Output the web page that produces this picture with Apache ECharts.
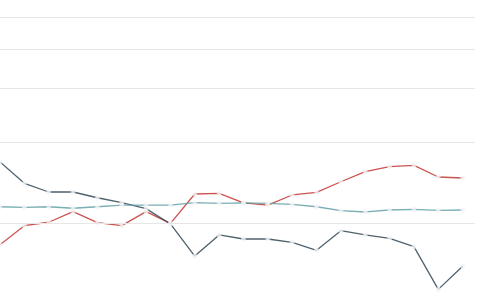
<!DOCTYPE html>
<html>
<head>
<meta charset="utf-8">
<script src="https://cdn.jsdelivr.net/npm/echarts@6/dist/echarts.min.js"></script>
<style>
html,body{margin:0;padding:0;background:#fff;}
#chart{width:480px;height:300px;}
</style>
</head>
<body>
<div id="chart"></div>
<script>
var categories = ['1','2','3','4','5','6','7','8','9','10','11','12','13','14','15','16','17','18','19','20'];
var seriesRed = [13.08,14.75,15.07,16.11,15.03,14.75,16.11,14.97,18.01,18.09,17.02,16.80,17.90,18.20,19.46,20.73,21.40,21.58,20.05,19.92];
var seriesDark = [22.04,19.27,18.24,18.24,17.59,17.05,16.42,14.91,12.18,13.91,13.56,13.56,13.28,12.63,14.29,13.91,13.62,12.92,9.87,11.42];
var seriesTeal = [16.62,16.56,16.62,16.46,16.62,16.80,16.80,16.80,17.05,16.98,17.02,16.98,16.88,16.62,16.21,16.08,16.28,16.35,16.25,16.28];
var gridValues = [15,25,35,45,55];

var chart = echarts.init(document.getElementById('chart'), null, {renderer:'canvas'});
function mkSeries(name, data, color, withGrid) {
  var s = {
    name: name, type: 'line', data: data, clip: false,
    symbol: 'emptyCircle', symbolSize: 3,
    lineStyle: {color: color, width: 1.3, opacity: 0.85},
    itemStyle: {color: '#f2f2f2', borderColor: color, borderWidth: 0.8, opacity: 0.6},
    emphasis: {disabled: true}
  };
  if (withGrid) {
    s.markLine = {
      silent: true, symbol: 'none', animation: false,
      label: {show: false},
      lineStyle: {color: '#e6e6e6', type: 'solid', width: 1},
      data: gridValues.map(function(v){ return {yAxis: v}; })
    };
  }
  return s;
}
chart.setOption({
  animation: false,
  backgroundColor: '#fff',
  grid: {left: -12.18, right: 5.2, top: 17, bottom: 77, containLabel: false, outerBoundsMode: 'none'},
  xAxis: {type: 'category', data: categories, boundaryGap: true, show: false},
  yAxis: {type: 'log', logBase: 10, min: 15, max: 55, show: false, splitLine: {show: false}},
  series: [
    mkSeries('A', seriesRed, '#c23531', true),
    mkSeries('B', seriesDark, '#2f4554', false),
    mkSeries('C', seriesTeal, '#61a0a8', false)
  ]
});
</script>
</body>
</html>
